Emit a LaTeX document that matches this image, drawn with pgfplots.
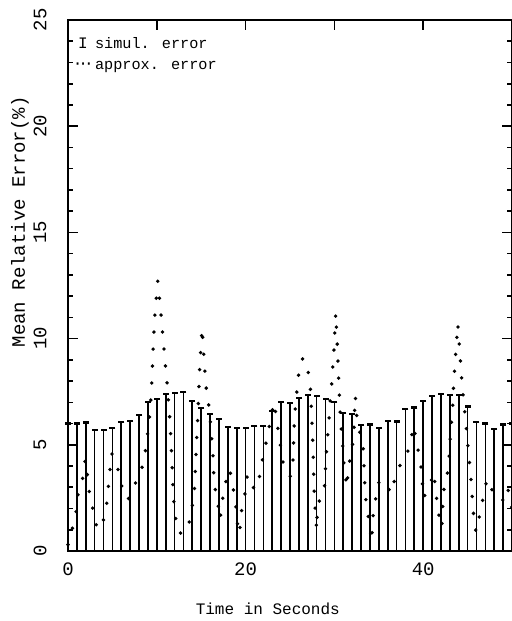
\documentclass[border=0pt]{standalone}
\usepackage{pgfplots}
\pgfplotsset{compat=1.18}
\usepackage{fontspec}
\setmainfont{Liberation Mono}
\begin{document}
\begin{tikzpicture}
\begin{axis}[
  scale only axis,
  width=222pt, height=265.5pt,
  xmin=0, xmax=50, ymin=0, ymax=25,
  axis line style={line width=1pt},
  xtick={0,10,20,30,40,50},
  xticklabels={0,,20,,40,},
  ytick={0,5,10,15,20,25},
  minor y tick num=4,
  tick align=inside,
  xtick pos=both, ytick pos=both,
  major tick length=5pt,
  minor tick length=2.5pt,
  tick style={line width=0.8pt, black},
  /pgf/number format/assume math mode=true,
  tick label style={font=\fontsize{9.5}{10}\selectfont},
  xticklabel style={anchor=center, yshift=-9pt},
  yticklabel style={rotate=90, anchor=center, yshift=14pt},
  xlabel={Time in Seconds},
  ylabel={Mean Relative Error(\%)},
  xlabel style={font=\fontsize{8}{9}\selectfont, at={(axis description cs:0.45,-0.109)}, anchor=center},
  ylabel style={font=\fontsize{9.5}{10}\selectfont, at={(axis description cs:-0.108,0.62)}, anchor=center},
  clip=false,
]
% simulated error: bars from 0 with cap
\addplot[ycomb, black, line width=0.85pt, mark=-, mark size=1.5pt, mark options={line width=1.1pt}] coordinates {
(0,6.00) (1,6.00) (2,6.05) (3,5.70) (4,5.68) (5,5.78) (6,6.06) (7,6.12) (8,6.40) (9,7.03)
(10,7.14) (11,7.38) (12,7.42) (13,7.50) (14,7.06) (15,6.72) (16,6.45) (17,6.20) (18,5.82) (19,5.78)
(20,5.78) (21,5.88) (22,5.88) (23,6.60) (24,7.03) (25,6.98) (26,7.19) (27,7.34) (28,7.30) (29,7.14)
(30,7.03) (31,6.50) (32,6.45) (33,5.93) (34,5.96) (35,5.80) (36,6.13) (37,6.10) (38,6.68) (39,6.76)
(40,7.08) (41,7.31) (42,7.39) (43,7.34) (44,7.34) (45,6.80) (46,6.06) (47,6.00) (48,5.74) (49,5.96)
(50,6.00)
};
% approximated error: dotted curve
\addplot[black, line width=1.9pt, line cap=round, dash pattern=on 0pt off 8.5pt, no markers] coordinates {
(0.0,0.3) (0.4,0.9) (0.9,1.8) (1.1,2.6) (1.7,3.5) (1.95,4.3) (2.2,3.5) (2.45,2.6) (2.9,1.8) (3.3,1.0)
(3.9,1.3) (4.3,2.0) (4.5,2.8) (4.7,3.7) (4.9,4.6) (5.4,4.3) (5.8,3.5) (6.2,2.8) (6.75,2.4) (7.7,3.3)
(8.4,4.0) (8.8,4.9) (9.2,6.4) (9.4,7.5) (9.55,9.2) (9.75,10.9) (10.1,12.7) (10.4,11.5) (10.7,10.0) (11.0,8.6)
(11.2,7.7) (11.5,6.0) (11.7,4.3) (11.85,2.6) (12.3,0.9) (13.0,0.8) (13.5,1.0) (14.2,2.6) (14.4,4.4) (14.6,6.2)
(14.85,8.8) (15.1,10.5) (15.35,8.8) (15.6,7.5) (15.95,6.6) (16.1,5.7) (16.3,4.8) (16.45,3.2) (16.85,2.3) (17.15,1.5)
(17.3,2.1) (17.6,3.0) (18.2,3.85) (18.6,2.95) (18.9,2.1) (19.1,1.2) (19.3,0.8) (19.5,1.8) (19.9,2.6) (20.2,3.6)
(20.6,3.2) (21.0,2.9) (21.4,3.0) (21.7,3.9) (22.1,4.7) (22.5,5.5) (23.0,6.6) (23.2,7.0) (23.5,6.2) (23.8,5.3)
(24.2,4.2) (24.6,3.7) (25.0,3.5) (25.3,3.7) (25.5,6.3) (25.9,8.1) (26.2,8.9) (26.5,9.1) (26.9,8.6) (27.2,8.2)
(27.35,7.3) (27.5,5.7) (27.6,4.75) (27.7,3.0) (27.8,2.2) (28.0,1.0) (28.1,2.25) (28.8,2.6) (28.9,3.1) (29.0,3.9)
(29.2,5.2) (29.4,6.2) (29.5,7.0) (29.7,7.9) (29.95,9.5) (30.15,11.2) (30.35,9.5) (30.5,7.9) (30.7,6.0) (30.9,5.2)
(31.1,4.0) (31.4,3.0) (31.6,4.0) (32.0,4.8) (32.2,5.7) (32.35,7.3) (32.5,6.4) (32.9,5.5) (33.3,4.7) (33.35,3.8)
(33.45,2.95) (33.6,2.1) (34.0,1.2) (34.2,0.45) (34.3,1.5) (34.6,2.3) (34.9,3.2) (35.4,3.3) (35.85,3.3) (36.3,2.7)
(36.9,3.5) (37.4,4.05) (38.0,4.3) (38.6,5.2) (38.9,5.9) (39.3,5.0) (39.7,4.2) (39.9,3.3) (40.0,2.5) (40.6,2.9)
(41.2,3.7) (41.5,2.5) (41.8,1.6) (42.1,1.1) (42.2,2.1) (42.4,3.3) (42.75,3.7) (42.9,4.3) (43.1,5.7) (43.3,6.5)
(43.35,7.3) (43.5,8.3) (43.7,9.5) (43.9,10.7) (44.1,9.5) (44.3,8.3) (44.5,7.3) (44.75,6.3) (45.0,5.1) (45.2,4.2)
(45.4,3.3) (45.6,2.1) (45.8,1.1) (46.0,0.9) (46.4,1.8) (46.7,2.4) (47.2,3.4) (48.2,2.45) (49.0,2.4) (49.5,3.0)
(50.0,2.0)
};
% legend
\node[anchor=west, font=\fontsize{8}{9}\selectfont, inner sep=0pt] at (axis description cs:0.022,0.957) {I};
\node[anchor=west, font=\fontsize{7.6}{9}\selectfont, inner sep=0pt] at (axis description cs:0.06,0.957) {simul. error};
\node[anchor=west, font=\fontsize{8}{9}\selectfont, inner sep=0pt] at (axis description cs:0.01,0.911) {\raisebox{0.4ex}{\textperiodcentered\kern-2pt\textperiodcentered\kern-2pt\textperiodcentered}};
\node[anchor=west, font=\fontsize{7.6}{9}\selectfont, inner sep=0pt] at (axis description cs:0.06,0.911) {approx. error};
\end{axis}
\pgfresetboundingbox
\path[use as bounding box] (-34pt,-35pt) rectangle (222pt,275.5pt);
\end{tikzpicture}
\end{document}
